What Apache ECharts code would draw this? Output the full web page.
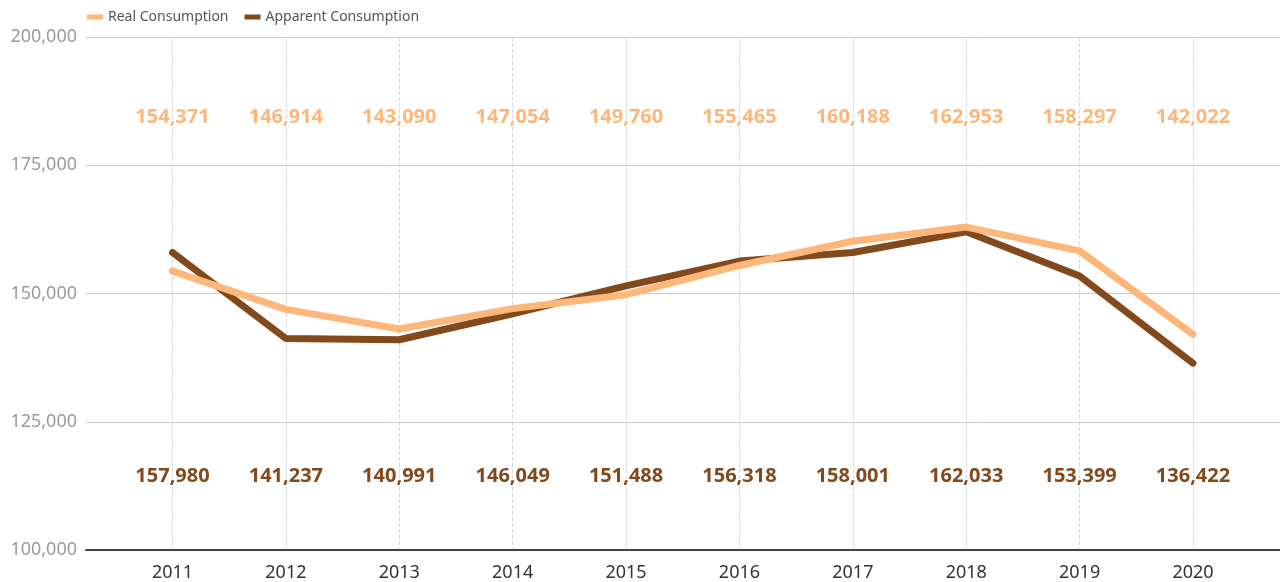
<!DOCTYPE html>
<html>
<head>
<meta charset="utf-8">
<script src="https://cdn.jsdelivr.net/npm/echarts@6/dist/echarts.min.js"></script>
<style>
  html, body { margin: 0; padding: 0; background: #fff; }
  #chart { width: 1280px; height: 582px; }
</style>
</head>
<body>
<div id="chart"></div>
<script>
const years = ['2011', '2012', '2013', '2014', '2015', '2016', '2017', '2018', '2019', '2020']
const realConsumption = [154371, 146914, 143090, 147054, 149760, 155465, 160188, 162953, 158297, 142022]
const apparentConsumption = [157980, 141237, 140991, 146049, 151488, 156318, 158001, 162033, 153399, 136422]

const REAL_COLOR = '#fdb77b'
const APPARENT_COLOR = '#82491c'
const FONT = 'Noto Sans'

// label rows sit at fixed heights inside the plot
const topRowY = 184400
const bottomRowY = 114400

const fmt = v => v.toLocaleString('en-US')

const chart = echarts.init(document.getElementById('chart'))

const labelRow = (name, values, rowY, color) => ({
  name,
  type: 'scatter',
  xAxisIndex: 1,
  yAxisIndex: 1,
  symbolSize: 0,
  silent: true,
  itemStyle: { color },
  data: values.map((v, i) => [i, rowY, v]),
  label: {
    show: true,
    position: 'inside',
    formatter: p => fmt(p.value[2]),
    color,
    opacity: 1,
    fontSize: 20,
    fontWeight: 'bold',
    fontFamily: FONT
  }
})

const option = {
  animation: false,
  textStyle: { fontFamily: FONT },
  legend: {
    data: ['Real Consumption', 'Apparent Consumption'],
    left: 82,
    top: 5,
    icon: 'rect',
    itemWidth: 16,
    itemHeight: 5,
    itemGap: 16,
    textStyle: { color: '#555', fontSize: 14, fontFamily: FONT }
  },
  grid: [
    { left: 86, right: 0, top: 37, bottom: 32 },
    { left: 172.5, right: 87, top: 37, bottom: 32 }
  ],
  xAxis: [
    {
      gridIndex: 0,
      type: 'value',
      min: 0,
      max: 1,
      axisLine: { show: true, onZero: false, lineStyle: { color: '#444', width: 2 } },
      axisTick: { show: false },
      axisLabel: { show: false },
      splitLine: { show: false }
    },
    {
      gridIndex: 1,
      type: 'category',
      data: years,
      boundaryGap: false,
      axisLine: { show: false },
      axisTick: { show: false },
      axisLabel: { color: '#333', fontSize: 18, margin: 14, fontFamily: FONT },
      splitLine: { show: true, lineStyle: { color: '#d9d9d9', type: 'dashed', width: 1 } }
    }
  ],
  yAxis: [
    {
      gridIndex: 0,
      type: 'value',
      min: 100000,
      max: 200000,
      interval: 25000,
      axisLine: { show: false },
      axisTick: { show: false },
      axisLabel: { color: '#9a9a9a', fontSize: 18, margin: 9, formatter: v => fmt(v), fontFamily: FONT },
      splitLine: { lineStyle: { color: '#cccccc', width: 1 } }
    },
    {
      gridIndex: 1,
      type: 'value',
      min: 100000,
      max: 200000,
      show: false,
      splitLine: { show: false }
    }
  ],
  series: [
    {
      name: 'Real Consumption',
      type: 'line',
      xAxisIndex: 1,
      yAxisIndex: 1,
      data: realConsumption,
      symbol: 'none',
      z: 4,
      itemStyle: { color: REAL_COLOR },
      lineStyle: { color: REAL_COLOR, width: 7, cap: 'round', join: 'round' }
    },
    {
      name: 'Apparent Consumption',
      type: 'line',
      xAxisIndex: 1,
      yAxisIndex: 1,
      data: apparentConsumption,
      symbol: 'none',
      z: 3,
      itemStyle: { color: APPARENT_COLOR },
      lineStyle: { color: APPARENT_COLOR, width: 7, cap: 'round', join: 'round' }
    },
    labelRow('realLabels', realConsumption, topRowY, REAL_COLOR),
    labelRow('apparentLabels', apparentConsumption, bottomRowY, APPARENT_COLOR)
  ]
}

chart.setOption(option)
</script>
</body>
</html>
